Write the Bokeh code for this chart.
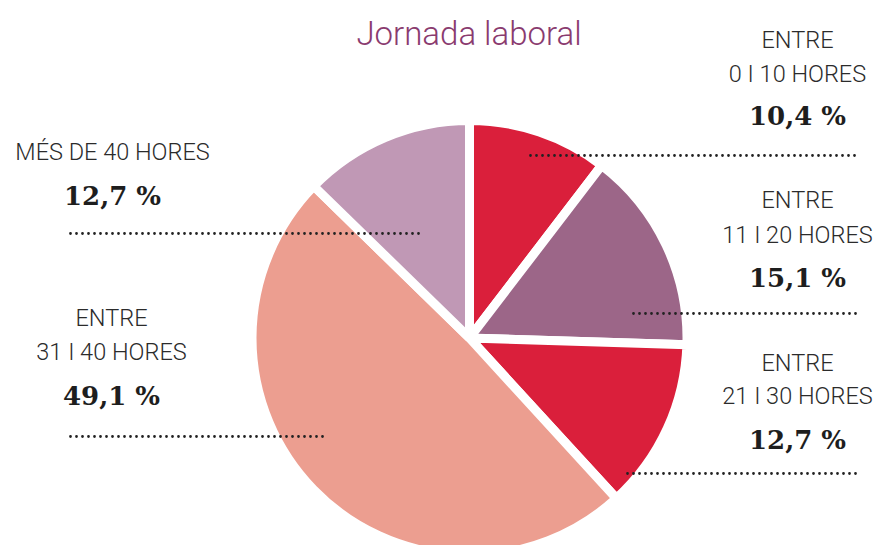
import math
from bokeh.plotting import figure
from bokeh.models import Range1d, ColumnDataSource
from bokeh.core.properties import value
from bokeh.embed import file_html
from bokeh.resources import INLINE

# ---- data ----
categories_line1 = ["ENTRE", "ENTRE", "ENTRE", "ENTRE", "MÉS DE 40 HORES"]
categories_line2 = ["0 I 10 HORES", "11 I 20 HORES", "21 I 30 HORES", "31 I 40 HORES", ""]
values = [10.4, 15.1, 12.7, 49.1, 12.7]
value_labels = ["10,4 %", "15,1 %", "12,7 %", "49,1 %", "12,7 %"]
colors = ["#DA1F3B", "#9C6688", "#DA1F3B", "#EC9E90", "#C098B5"]
title_text = "Jornada laboral"

# ---- layout (screen-pixel coordinates, y measured from top of window) ----
H = 545
W_FIG, H_FIG = 877, 545
TS = 8  # text baseline correction
cx, cy, r_vis, gap = 469, 337.5, 213, 9
label_x = [797, 797, 797, 111, 112]
line1_base = [47, 207, 370, 325, 159]
line2_base = [81, 242, 403, 359, None]
pct_base = [123, 285, 447, 403, 203]
dot_x0 = [530, 633, 627, 70, 70]
dot_x1 = [857, 857, 857, 327, 423]
dot_y = [155, 313, 473, 436, 233]

p = figure(width=W_FIG, height=H_FIG, x_range=Range1d(0, W_FIG), y_range=Range1d(H - H_FIG, H),
           x_axis_type=None, y_axis_type=None, min_border=0,
           toolbar_location=None, output_backend="svg")
p.grid.visible = False
p.outline_line_color = None
p.background_fill_color = "white"
p.border_fill_color = "white"

# wedges, clockwise from top
total = sum(values)
starts, ends = [], []
cum = 0.0
for v in values:
    a0 = math.pi / 2 - 2 * math.pi * (cum + v) / total
    a1 = math.pi / 2 - 2 * math.pi * cum / total
    starts.append(a0)
    ends.append(a1)
    cum += v
src = ColumnDataSource(dict(start=starts, end=ends, color=colors))
p.wedge(x=cx, y=H - cy, radius=r_vis + gap / 2, radius_units="screen",
        start_angle="start", end_angle="end", fill_color="color",
        line_color="white", line_width=gap, source=src)

# dotted leader lines
p.segment(x0=dot_x0, y0=[H - y for y in dot_y], x1=dot_x1, y1=[H - y for y in dot_y],
          line_color="#222222", line_width=2.8, line_dash="0 6", line_cap="round")

label_font = value("Roboto Light")
# line 1
p.text(x=label_x, y=[H - y + TS for y in line1_base], text=categories_line1,
       text_align="center", text_baseline="alphabetic", text_font=label_font,
       text_font_size="23.5px", text_color="#2b2b2b")
# line 2
l2x = [x for x, t in zip(label_x, categories_line2) if t]
l2y = [H - y + TS for y, t in zip(line2_base, categories_line2) if t]
l2t = [t for t in categories_line2 if t]
p.text(x=l2x, y=l2y, text=l2t, text_align="center", text_baseline="alphabetic",
       text_font=label_font, text_font_size="23.5px", text_color="#2b2b2b")
# percentages
p.text(x=label_x, y=[H - y + TS for y in pct_base], text=value_labels,
       text_align="center", text_baseline="alphabetic", text_font=value("DejaVu Serif"),
       text_font_style="bold", text_font_size="26px", text_color="#1e1e1e")
# title
p.text(x=[468.5], y=[H - 41 + TS], text=[title_text], text_align="center",
       text_baseline="alphabetic", text_font=label_font, text_font_size="33px",
       text_color="#8A3B6F")

open("out.html", "w").write(file_html(p, INLINE))
